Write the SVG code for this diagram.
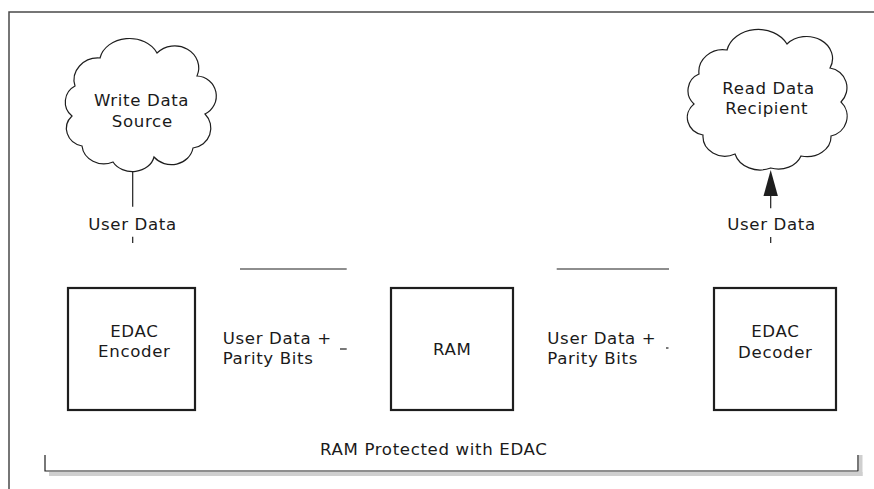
<svg xmlns="http://www.w3.org/2000/svg" width="874" height="489" viewBox="0 0 874 489">
  <style>
    .frame { fill: none; stroke: #4a4a4a; stroke-width: 1.5; }
    .box { fill: #ffffff; stroke: #1e1e1e; stroke-width: 2.2; }
    .cloud { fill: #ffffff; stroke: #1e1e1e; stroke-width: 1.2; }
    .wire { fill: none; stroke: #1e1e1e; stroke-width: 1.2; }
    .shadow { fill: #cfcfcf; }
    text { font-family: "DejaVu Sans", Verdana, sans-serif; font-size: 16.6px; letter-spacing: 0.65px; fill: #1a1a1a; }
    .mid { text-anchor: middle; }
  </style>

  <rect width="874" height="489" fill="#ffffff"/>

  <!-- page frame -->
  <path class="frame" d="M 9,489 V 12 H 874"/>

  <!-- scope bracket with shadow -->
  <g id="scope">
    <rect class="shadow" x="49" y="472" width="813.5" height="4"/>
    <rect class="shadow" x="859" y="455" width="3.5" height="21"/>
    <path class="wire" d="M 45,455 V 471 H 858 V 455" stroke-width="1.5"/>
    <text x="320" y="455">RAM Protected with EDAC</text>
  </g>

  <!-- connectors -->
  <g id="connectors">
    <line class="wire" x1="132.7" y1="170" x2="132.7" y2="206.7"/>
    <line class="wire" x1="132.7" y1="236.7" x2="132.7" y2="243"/>
    <line class="wire" x1="240" y1="269" x2="346.7" y2="269"/>
    <line class="wire" x1="340" y1="349" x2="346.7" y2="349"/>
    <line class="wire" x1="556.7" y1="269" x2="669" y2="269"/>
    <line class="wire" x1="666" y1="348" x2="668.5" y2="348"/>
    <line class="wire" x1="770.7" y1="194" x2="770.7" y2="208.3"/>
    <polygon points="770.7,170 763.5,196 777.9,196" fill="#1e1e1e"/>
    <line class="wire" x1="770.7" y1="237" x2="770.7" y2="243"/>
    <text x="132.5" y="230" class="mid">User Data</text>
    <text x="771.5" y="230" class="mid">User Data</text>
    <text x="222.7" y="344">User Data +</text>
    <text x="222.7" y="364.3">Parity Bits</text>
    <text x="547.3" y="344">User Data +</text>
    <text x="547.3" y="364.3">Parity Bits</text>
  </g>

  <!-- source cloud -->
  <g id="write-source">
    <path class="cloud" d="M 75,86
      A 24,22 0 0 1 100,58
      A 30,24 0 0 1 157,53
      A 24,22 0 0 1 197,76
      A 20,20 0 0 1 205,114
      A 20,20 0 0 1 193,148
      A 22,20 0 0 1 154,157
      A 22,18 0 0 1 113,162
      A 22,20 0 0 1 82,146
      A 20,18 0 0 1 72,116
      A 18,18 0 0 1 75,86 Z"/>
    <text x="141.6" y="106" class="mid">Write Data</text>
    <text x="142.3" y="126.7" class="mid">Source</text>
  </g>

  <!-- recipient cloud -->
  <g id="read-recipient">
    <path class="cloud" d="M 699,74
      A 24,22 0 0 1 727,50
      A 32,26 0 0 1 787,44
      A 26,22 0 0 1 830,68
      A 20,20 0 0 1 841,102
      A 20,20 0 0 1 831,136
      A 24,20 0 0 1 801,156
      A 24,20 0 0 1 770.7,168
      A 26,22 0 0 1 735,154
      A 22,20 0 0 1 703,135
      A 20,18 0 0 1 694,104
      A 18,18 0 0 1 699,74 Z"/>
    <text x="768.6" y="94.3" class="mid">Read Data</text>
    <text x="766.8" y="114" class="mid">Recipient</text>
  </g>

  <!-- processing blocks -->
  <g id="edac-encoder">
    <rect class="box" x="68" y="288" width="127" height="122"/>
    <text x="134.3" y="337" class="mid">EDAC</text>
    <text x="134.3" y="357" class="mid">Encoder</text>
  </g>

  <g id="ram">
    <rect class="box" x="391" y="288" width="122" height="122"/>
    <text x="452.3" y="355" class="mid">RAM</text>
  </g>

  <g id="edac-decoder">
    <rect class="box" x="714" y="288" width="122" height="122"/>
    <text x="775.3" y="337" class="mid">EDAC</text>
    <text x="775.3" y="358" class="mid">Decoder</text>
  </g>
</svg>
